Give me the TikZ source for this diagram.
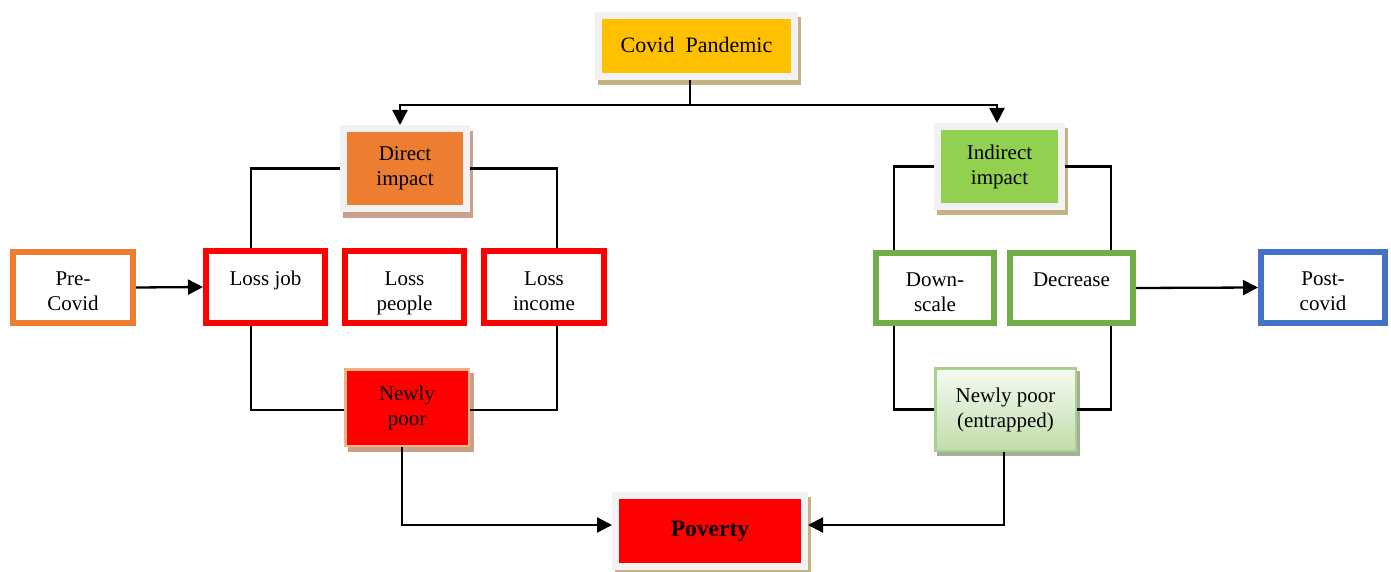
\documentclass[tikz,border=0pt]{standalone}
\usepackage{fontspec}
\setmainfont{Liberation Serif}
\usetikzlibrary{arrows.meta,backgrounds}
\definecolor{yellowc}{HTML}{FFC000}
\definecolor{orangec}{HTML}{ED7D31}
\definecolor{greenc}{HTML}{92D050}
\definecolor{greenb}{HTML}{70AD47}
\definecolor{bluec}{HTML}{4472C4}
\definecolor{redc}{HTML}{FF0000}
\definecolor{frameg}{HTML}{F2F2F2}
\definecolor{shtan}{HTML}{C4B283}
\definecolor{shbrown}{HTML}{C9A08A}
\definecolor{shgray}{HTML}{A4AE9B}
\definecolor{npborder}{HTML}{F4B183}
\definecolor{npeborder}{HTML}{A9D18E}
\definecolor{npetop}{HTML}{F6FBF3}
\definecolor{npebot}{HTML}{C0DDAA}
\newcommand\fsB{\fontsize{21}{25}\selectfont}
\newcommand\fsC{\fontsize{22}{26}\selectfont}
\newcommand\fsD{\fontsize{23.5}{27}\selectfont}
\newcommand\lowtxt[1]{\raisebox{-11pt}[0pt][0pt]{\begin{tabular}{@{}c@{}}#1\end{tabular}}}
\begin{document}
\begin{tikzpicture}[x=1pt,y=-1pt,
  framed/.style={rectangle, draw=frameg, line width=7pt, font=\fsB, align=center, inner sep=0pt},
  box/.style={rectangle, line width=6pt, fill=white, font=\fsB, inner sep=0pt},
  conn/.style={line width=2.3pt, draw=black},
  arr/.style={conn, -{Triangle[length=15pt,width=15pt]}},
]
\useasboundingbox (0,0) rectangle (1391,572);

% framed nodes
\node[framed, fill=yellowc, minimum width=196, minimum height=61, font=\fsC] (cov) at (696.5,46) {\raisebox{3pt}{Covid~~Pandemic}};
\node[framed, fill=orangec, minimum width=123, minimum height=80] (dir) at (405,168.5) {Direct\\impact};
\node[framed, fill=greenc, minimum width=124, minimum height=80] (ind) at (999.5,166.5) {Indirect\\impact};
\node[framed, fill=redc, minimum width=189, minimum height=71, font=\fsD\bfseries] (pov) at (710,531) {\raisebox{4pt}{Poverty}};

% newly poor nodes
\node[rectangle, draw=npborder, line width=2.5pt, fill=redc, minimum width=123.5, minimum height=76.5, font=\fsB, align=center, inner sep=0pt] (np) at (407,407.5) {Newly\\poor};
\node[rectangle, draw=npeborder, line width=2.5pt, top color=npetop, bottom color=npebot, minimum width=140.5, minimum height=82.5, font=\fsB, align=center, inner sep=0pt] (npe) at (1005.5,409.5) {\raisebox{2pt}{\begin{tabular}{@{}c@{}}Newly poor\\(entrapped)\end{tabular}}};

% middle row
\node[box, draw=orangec, minimum width=120, minimum height=71] (pre) at (73,287.5) {\lowtxt{Pre-\\Covid}};
\node[box, draw=redc, minimum width=119, minimum height=72] (ljob) at (265.5,287) {\lowtxt{Loss job\\\strut}};
\node[box, draw=redc, minimum width=119, minimum height=72] (lpeo) at (404.5,287) {\lowtxt{Loss\\people}};
\node[box, draw=redc, minimum width=120, minimum height=72] (linc) at (544,287) {\lowtxt{Loss\\income}};
\node[box, draw=greenb, minimum width=118, minimum height=70] (down) at (935,288) {\lowtxt{Down-\\scale}};
\node[box, draw=greenb, minimum width=123, minimum height=70] (dec) at (1071.5,288) {\lowtxt{Decrease\\\strut}};
\node[box, draw=bluec, minimum width=124, minimum height=71] (post) at (1323,287.5) {\lowtxt{Post-\\covid}};

% shadows
\begin{scope}[on background layer]
\fill[shtan] ([shift={(3,5)}]cov.south west) rectangle ([shift={(3,5)}]cov.north east);
\fill[shbrown] ([shift={(3,6)}]dir.south west) rectangle ([shift={(3,6)}]dir.north east);
\fill[shtan] ([shift={(3,5)}]ind.south west) rectangle ([shift={(3,5)}]ind.north east);
\fill[shtan] ([shift={(3,5)}]pov.south west) rectangle ([shift={(3,5)}]pov.north east);
\fill[shbrown] ([shift={(4,5)}]np.south west) rectangle ([shift={(4,5)}]np.north east);
\fill[shgray] ([shift={(3,4)}]npe.south west) rectangle ([shift={(3,4)}]npe.north east);
\end{scope}

% top connectors
\coordinate (split) at (690,105);
\draw[conn] (split |- cov.south) -- (split);
\draw[arr] (split) -| ([xshift=-5pt]dir.north);
\draw[arr] (split) -| ([xshift=-2.5pt]ind.north);

% brackets
\draw[conn] (dir.west) -| ([xshift=-14.5pt]ljob.north);
\draw[conn] (dir.east) -| ([xshift=13pt]linc.north);
\draw[conn] ([xshift=-14.5pt]ljob.south) |- ([yshift=-2.5pt]np.west);
\draw[conn] ([xshift=13pt]linc.south) |- ([yshift=-2.5pt]np.east);
\draw[conn] (ind.west) -| ([xshift=-41pt]down.north);
\draw[conn] (ind.east) -| ([xshift=39.5pt]dec.north);
\draw[conn] ([xshift=-41pt]down.south) |- (npe.west);
\draw[conn] ([xshift=39.5pt]dec.south) |- (npe.east);

% arrows
\draw[arr] (pre.east) -- (ljob.west);
\draw[arr] (dec.east) -- (post.west);
\draw[arr] ([xshift=-5pt]np.south) |- ([yshift=6pt]pov.west);
\draw[arr] ([xshift=-1.5pt]npe.south) |- ([yshift=6pt]pov.east);
\end{tikzpicture}
\end{document}
